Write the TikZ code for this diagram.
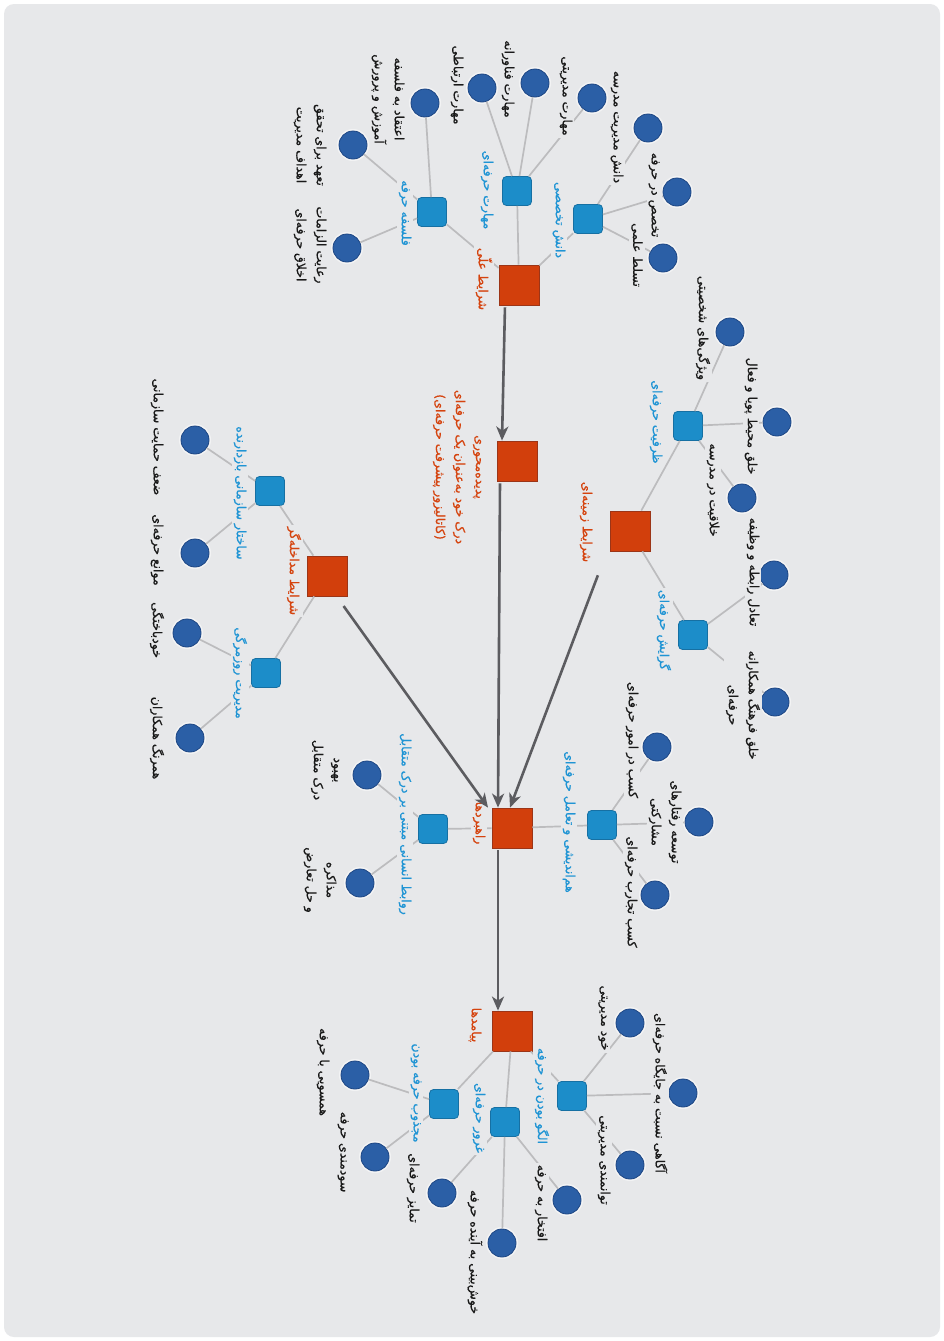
\documentclass[tikz,border=0pt]{standalone}
\usepackage{fontspec}
\usetikzlibrary{arrows.meta}
\TeXXeTstate=1
\newfontfamily\fafont[Script=Arabic,FakeBold=0.6]{DejaVu Sans}
\newcommand{\fatext}[1]{\beginR #1\endR}
\definecolor{paper}{HTML}{E7E8EA}
\definecolor{corefill}{HTML}{D23F0C}
\definecolor{coreedge}{HTML}{9C3517}
\definecolor{subfill}{HTML}{1C8DC9}
\definecolor{subedge}{HTML}{1670A3}
\definecolor{dotfill}{HTML}{2B5FA6}
\definecolor{dotedge}{HTML}{1D4683}
\definecolor{coretext}{HTML}{D5430E}
\definecolor{subtext}{HTML}{1F94D4}
\definecolor{linkgray}{HTML}{BCBCBE}
\definecolor{flowgray}{HTML}{5C5C60}

\begin{document}
\begin{tikzpicture}[x=1pt,y=-1pt]
        \tikzstyle{core}=[rectangle,draw=coreedge,fill=corefill,line width=0.8pt,minimum size=40pt,inner sep=0pt]
        \tikzstyle{sub}=[rectangle,rounded corners=4pt,draw=subedge,fill=subfill,line width=0.8pt,minimum size=29pt,inner sep=0pt]
        \tikzstyle{dot}=[circle,draw=dotedge,fill=dotfill,line width=0.8pt,minimum size=28pt,inner sep=0pt,preaction={draw=white,draw opacity=0.5,line width=4pt}]
        \tikzstyle{tag}=[rotate=-90,fill=paper,inner sep=2pt,align=center,text=black!90,font=\fafont\fontsize{12.5}{20}\selectfont]
        \tikzstyle{coretag}=[tag,text=coretext]
        \tikzstyle{subtag}=[tag,text=subtext]
        \tikzstyle{link}=[draw=linkgray,line width=1.7pt]
        \tikzstyle{flow}=[draw=flowgray,line width=2.6pt,shorten <=2pt,-{Stealth[length=14pt,width=12pt,inset=4pt]}]
        \useasboundingbox (0,0) rectangle (944,1341);
        \fill[white] (0,0) rectangle (944,1341);
        \fill[paper,rounded corners=10pt] (4,4) rectangle (940,1337);
       \begin{scope}
         % main categories
         \node [core] (r1) at (519,285) {};
         \node [core] (r2) at (517,461) {};
         \node [core] (r3) at (630,531) {};
         \node [core] (r4) at (327,576) {};
         \node [core] (r5) at (512,828) {};
         \node [core] (r6) at (512,1031) {};
         % sub categories
         \node [sub] (b1) at (588,219) {};
         \node [sub] (b2) at (517,191) {};
         \node [sub] (b3) at (432,212) {};
         \node [sub] (b4) at (688,426) {};
         \node [sub] (b5) at (693,635) {};
         \node [sub] (b6) at (270,491) {};
         \node [sub] (b7) at (266,673) {};
         \node [sub] (b8) at (602,825) {};
         \node [sub] (b9) at (433,829) {};
         \node [sub] (b10) at (572,1096) {};
         \node [sub] (b11) at (505,1122) {};
         \node [sub] (b12) at (444,1104) {};
         % concepts
         \node [dot] (c11) at (663,258) {};
         \node [dot] (c12) at (677,192) {};
         \node [dot] (c13) at (648,128) {};
         \node [dot] (c21) at (592,98) {};
         \node [dot] (c22) at (535,83) {};
         \node [dot] (c23) at (482,88) {};
         \node [dot] (c31) at (425,103) {};
         \node [dot] (c32) at (353,145) {};
         \node [dot] (c33) at (347,248) {};
         \node [dot] (c41) at (730,332) {};
         \node [dot] (c42) at (777,422) {};
         \node [dot] (c43) at (742,498) {};
         \node [dot] (c51) at (774,575) {};
         \node [dot] (c52) at (775,702) {};
         \node [dot] (c61) at (195,440) {};
         \node [dot] (c62) at (195,553) {};
         \node [dot] (c63) at (187,633) {};
         \node [dot] (c64) at (190,738) {};
         \node [dot] (c81) at (657,747) {};
         \node [dot] (c82) at (699,822) {};
         \node [dot] (c83) at (655,895) {};
         \node [dot] (c91) at (367,775) {};
         \node [dot] (c92) at (360,883) {};
         \node [dot] (c101) at (630,1023) {};
         \node [dot] (c102) at (683,1093) {};
         \node [dot] (c103) at (630,1165) {};
         \node [dot] (c111) at (567,1200) {};
         \node [dot] (c112) at (502,1243) {};
         \node [dot] (c121) at (355,1075) {};
         \node [dot] (c122) at (375,1157) {};
         \node [dot] (c123) at (442,1193) {};
         % links
         \path[link] (r1) edge (b1) edge (b2) edge (b3);
         \path[link] (r3) edge (b4) edge (b5);
         \path[link] (r4) edge (b6) edge (b7);
         \path[link] (r5) edge (b8) edge (b9);
         \path[link] (r6) edge (b10) edge (b11) edge (b12);
         \path[link] (b1) edge (c11) edge (c12) edge (c13);
         \path[link] (b2) edge (c21) edge (c22) edge (c23);
         \path[link] (b3) edge (c31) edge (c32) edge (c33);
         \path[link] (b4) edge (c41) edge (c42) edge (c43);
         \path[link] (b5) edge (c51) edge (c52);
         \path[link] (b6) edge (c61) edge (c62);
         \path[link] (b7) edge (c63) edge (c64);
         \path[link] (b8) edge (c81) edge (c82) edge (c83);
         \path[link] (b9) edge (c91) edge (c92);
         \path[link] (b10) edge (c101) edge (c102) edge (c103);
         \path[link] (b11) edge (c111) edge (c112) edge (c123);
         \path[link] (b12) edge (c121) edge (c122);
         % labels of main categories
         \node [coretag] (tr1) at (484,279) {\fatext{شرایط علّی}};
         \node [coretag] (tr2) at (457,467) {\fatext{پدیده‌محوری}\\\fatext{درک خود به‌عنوان یک حرفه‌ای}\\\fatext{(کاتالیزور پیشرفت حرفه‌ای)}};
         \node [coretag] (tr3) at (586,522) {\fatext{شرایط زمینه‌ای}};
         \node [coretag] (tr4) at (294,571) {\fatext{شرایط مداخله‌گر}};
         \node [coretag] (tr5) at (479,823) {\fatext{راهبردها}};
         \node [coretag] (tr6) at (475,1025) {\fatext{پیامدها}};
         % labels of sub categories
         \node [subtag] (tb1) at (559,220) {\fatext{دانش تخصصی}};
         \node [subtag] (tb2) at (487,190) {\fatext{مهارت حرفه‌ای}};
         \node [subtag] (tb3) at (405,213) {\fatext{فلسفه حرفه}};
         \node [subtag] (tb4) at (656,422) {\fatext{ظرفیت حرفه‌ای}};
         \node [subtag] (tb5) at (664,630) {\fatext{گرایش حرفه‌ای}};
         \node [subtag] (tb6) at (240,493) {\fatext{ساختار سازمانی بازدارنده}};
         \node [subtag] (tb7) at (240,673) {\fatext{مدیریت روزمرگی}};
         \node [subtag] (tb8) at (569,822) {\fatext{هم‌اندیشی و تعامل حرفه‌ای}};
         \node [subtag] (tb9) at (405,824) {\fatext{روابط انسانی مبتنی بر درک متقابل}};
         \node [subtag] (tb10) at (542,1096) {\fatext{الگو بودن در حرفه}};
         \node [subtag] (tb11) at (479,1118) {\fatext{غرور حرفه‌ای}};
         \node [subtag] (tb12) at (416,1093) {\fatext{مجذوب حرفه بودن}};
         % labels of concepts
         \node [tag] (tc11) at (637,255) {\fatext{تسلط علمی}};
         \node [tag] (tc12) at (654,195) {\fatext{تخصص در حرفه}};
         \node [tag] (tc13) at (617,127) {\fatext{دانش مدیریت مدرسه}};
         \node [tag] (tc21) at (566,96) {\fatext{مهارت مدیریتی}};
         \node [tag] (tc22) at (508,79) {\fatext{مهارت فناورانه}};
         \node [tag] (tc23) at (457,85) {\fatext{مهارت ارتباطی}};
         \node [tag] (tc31) at (388,99) {\fatext{اعتقاد به فلسفه}\\\fatext{آموزش و پرورش}};
         \node [tag] (tc32) at (310,145) {\fatext{تعهد برای تحقق}\\\fatext{اهداف مدیریت}};
         \node [tag] (tc33) at (310,245) {\fatext{رعایت الزامات}\\\fatext{اخلاق حرفه‌ای}};
         \node [tag] (tc41) at (703,328) {\fatext{ویژگی‌های شخصیتی}};
         \node [tag] (tc42) at (751,416) {\fatext{خلق محیط پویا و فعال}};
         \node [tag] (tc43) at (713,490) {\fatext{خلاقیت در مدرسه}};
         \node [tag] (tc51) at (753,572) {\fatext{تعادل رابطه و وظیفه}};
         \node [tag] (tc52) at (743,705) {\fatext{خلق فرهنگ همکارانه}\\\fatext{حرفه‌ای}};
         \node [tag] (tc61) at (157,437) {\fatext{ضعف حمایت سازمانی}};
         \node [tag] (tc62) at (157,550) {\fatext{موانع حرفه‌ای}};
         \node [tag] (tc63) at (157,630) {\fatext{خودباختگی}};
         \node [tag] (tc64) at (157,738) {\fatext{همرنگ همکاران}};
         \node [tag] (tc81) at (632,740) {\fatext{کسب در امور حرفه‌ای}};
         \node [tag] (tc82) at (665,822) {\fatext{توسعه رفتارهای}\\\fatext{مشارکتی}};
         \node [tag] (tc83) at (631,892) {\fatext{کسب تجارب حرفه‌ای}};
         \node [tag] (tc91) at (325,770) {\fatext{بهبود}\\\fatext{درک متقابل}};
         \node [tag] (tc92) at (320,880) {\fatext{مذاکره}\\\fatext{و حل تعارض}};
         \node [tag] (tc101) at (603,1018) {\fatext{خود مدیریتی}};
         \node [tag] (tc102) at (660,1093) {\fatext{آگاهی نسبت به جایگاه حرفه‌ای}};
         \node [tag] (tc103) at (604,1160) {\fatext{توانمندی مدیریتی}};
         \node [tag] (tc111) at (541,1203) {\fatext{افتخار به حرفه}};
         \node [tag] (tc112) at (475,1252) {\fatext{خوش‌بینی به آینده حرفه}};
         \node [tag] (tc121) at (323,1072) {\fatext{همسویی با حرفه}};
         \node [tag] (tc122) at (343,1152) {\fatext{سودمندی حرفه}};
         \node [tag] (tc123) at (413,1188) {\fatext{تمایز حرفه‌ای}};
         % main flow
         \draw[flow] ([xshift=-14pt]r1.south) -- ([xshift=-15pt]r2.north);
         \draw[flow] ([xshift=-17pt]r2.south) -- ([xshift=-14pt]r5.north);
         \draw[flow] ([shift={(-11pt,-22pt)}]r3.south west) -- ([xshift=-2pt]r5.north);
         \draw[flow] ([shift={(-5pt,-8pt)}]r4.south east) -- ([xshift=-24pt]r5.north);
         \draw[flow] ([xshift=-14pt]r5.south) -- ([xshift=-14pt]r6.north);
        \end{scope}
      \end{tikzpicture}
\end{document}
